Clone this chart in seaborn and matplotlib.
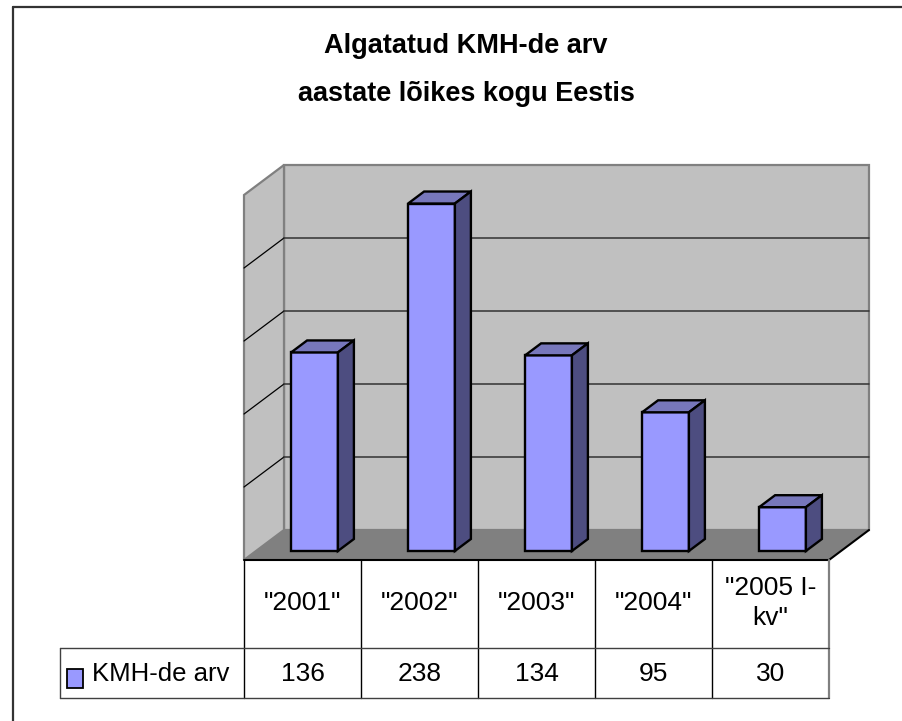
import numpy as np
import pandas as pd
import matplotlib
matplotlib.use("Agg")
import matplotlib.pyplot as plt
import matplotlib.transforms as mtransforms
from matplotlib.patches import Polygon, Rectangle
from matplotlib.lines import Line2D
import seaborn as sns

# -----------------------------
# Data
# -----------------------------
years = ['"2001"', '"2002"', '"2003"', '"2004"', '"2005 I-\nkv"']
counts = [136, 238, 134, 95, 30]
series_name = "KMH-de arv"
title_lines = ["Algatatud KMH-de arv", "aastate lõikes kogu Eestis"]
y_max = 250
y_grid = [50, 100, 150, 200]

df = pd.DataFrame({"year": years, "count": counts})

sns.set_style("white")
plt.rcParams['font.family'] = ['Liberation Sans', 'DejaVu Sans']
plt.rcParams['text.color'] = 'black'

W, H = 902, 721
fig = plt.figure(figsize=(W / 100, H / 100), dpi=100)
ax = fig.add_axes([244 / W, 161 / H, 585 / W, 365 / H])

# front faces of the columns
sns.barplot(data=df, x="year", y="count", width=0.4, color="#9999FF",
            saturation=1, edgecolor="black", linewidth=1.7, ax=ax, zorder=3)
bars = list(ax.patches)

n = len(years)
ax.set_xlim(-0.5, n - 0.5)
ax.set_ylim(0, y_max)
ax.autoscale(False)
ax.axis("off")

# depth vector of the 3D box, in pixels
D = np.array([40.0, 30.0])
ident = mtransforms.IdentityTransform()


def P(x, v, d):
    return ax.transData.transform((x, v)) + d * D


def poly(pts, **kw):
    ax.add_patch(Polygon(np.array(pts), closed=True, transform=ident,
                         clip_on=False, **kw))


def line(xs, ys, **kw):
    fig.add_artist(Line2D(xs, ys, transform=ident, **kw))


x0, x1 = -0.5, n - 0.5

# walls and floor
poly([P(x0, 0, 1), P(x1, 0, 1), P(x1, y_max, 1), P(x0, y_max, 1)],
     facecolor="#C0C0C0", edgecolor="#808080", linewidth=1.6, zorder=0.5)
poly([P(x0, 0, 0), P(x0, 0, 1), P(x0, y_max, 1), P(x0, y_max, 0)],
     facecolor="#C0C0C0", edgecolor="#808080", linewidth=1.6, zorder=0.6)
poly([P(x0, 0, 0), P(x1, 0, 0), P(x1, 0, 1), P(x0, 0, 1)],
     facecolor="#808080", edgecolor="none", zorder=0.7)

for g in y_grid:
    a, b, c = P(x0, g, 0), P(x0, g, 1), P(x1, g, 1)
    ax.add_line(Line2D([a[0], b[0]], [a[1], b[1]], color="black", lw=0.9,
                       transform=ident, clip_on=False, zorder=0.8))
    ax.add_line(Line2D([b[0], c[0]], [b[1], c[1]], color="#333333", lw=1.1,
                       transform=ident, clip_on=False, zorder=0.8))

# floor edges
fa, fb, fc = P(x0, 0, 0), P(x1, 0, 0), P(x1, 0, 1)
ax.add_line(Line2D([fa[0], fb[0], fc[0]], [fa[1], fb[1], fc[1]], color="black",
                   lw=1.5, transform=ident, clip_on=False, zorder=0.9))

# 3D columns: shift the front face and add top and side
shift = mtransforms.ScaledTranslation(0.3 * D[0] / 100, 0.3 * D[1] / 100,
                                      fig.dpi_scale_trans)
for p in bars:
    p.set_transform(ax.transData + shift)
    p.set_clip_on(False)
    bx, bw, bh = p.get_x(), p.get_width(), p.get_height()
    poly([P(bx, bh, .3), P(bx + bw, bh, .3), P(bx + bw, bh, .7), P(bx, bh, .7)],
         facecolor="#7777BB", edgecolor="black", linewidth=1.7, zorder=3)
    poly([P(bx + bw, 0, .3), P(bx + bw, 0, .7), P(bx + bw, bh, .7), P(bx + bw, bh, .3)],
         facecolor="#4D4D80", edgecolor="black", linewidth=1.7, zorder=3)

# -----------------------------
# Data table
# -----------------------------
col_px = [P(i - 0.5, 0, 0)[0] for i in range(n + 1)]
top, mid, bot = H - 560, H - 648, H - 698
leg_left = 60

for i, xb in enumerate(col_px):
    if i == n:
        line([xb, xb], [top, bot], color="#808080", lw=1.6)
    else:
        line([xb, xb], [top, bot], color="black", lw=1.0)
line([leg_left, col_px[-1]], [mid, mid], color="#404040", lw=1.0)
line([leg_left, col_px[-1]], [bot, bot], color="#404040", lw=1.0)
line([leg_left, leg_left], [mid, bot], color="#404040", lw=1.0)

for i in range(n):
    cx = (col_px[i] + col_px[i + 1]) / 2
    fig.text(cx, H - 603, years[i], transform=ident, ha="center", va="center",
             fontsize=19, linespacing=1.35)
    fig.text(cx, H - 674, str(counts[i]), transform=ident, ha="center",
             va="center", fontsize=19)

fig.add_artist(Rectangle((67, H - 688), 16, 19, transform=ident,
                         facecolor="#9999FF", edgecolor="black", lw=1.3))
fig.text(92, H - 674, series_name, transform=ident, ha="left", va="center",
         fontsize=18.5)

# -----------------------------
# Title and chart border
# -----------------------------
fig.text(466, H - 53, title_lines[0], transform=ident, ha="center",
         va="baseline", fontsize=19.5, fontweight="bold")
fig.text(466, H - 101, title_lines[1], transform=ident, ha="center",
         va="baseline", fontsize=19.5, fontweight="bold")

line([13, W], [H - 7, H - 7], color="#333333", lw=1.6)
line([13, 13], [H - 7, 0], color="#333333", lw=1.6)

fig.savefig("out.png", dpi=100)
